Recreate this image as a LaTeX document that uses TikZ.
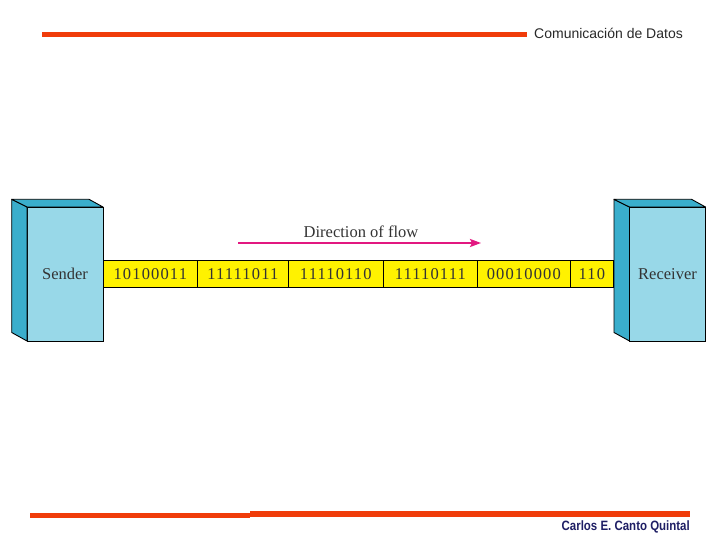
\documentclass[tikz,border=0pt]{standalone}
\usepackage{fontspec}
\setmainfont{Liberation Serif}
\newfontfamily\headfont{Liberation Sans}
\newfontfamily\authfont[FakeStretch=0.85]{Liberation Sans}
\usetikzlibrary{arrows.meta}
\definecolor{barred}{RGB}{240,60,10}
\definecolor{lightbox}{RGB}{152,216,232}
\definecolor{darkbox}{RGB}{58,174,204}
\definecolor{flowmag}{RGB}{226,24,128}
\definecolor{authnavy}{RGB}{30,30,100}
\definecolor{headgray}{RGB}{40,40,40}
\tikzset{
  frontface/.style={draw=black, fill=lightbox, line width=0.9pt, inner sep=0pt, outer sep=0pt,
    minimum width=76pt, minimum height=134pt,
    font=\fontsize{16.5}{18}\selectfont, text=black!80},
  shadeface/.style={draw=black, fill=darkbox, line width=0.9pt, line join=round},
  cell/.style={draw=black, fill=yellow, line width=0.8pt, inner sep=0pt, outer sep=0pt,
    minimum height=26.6pt, anchor=west,
    font=\fontsize{16.5}{18}\selectfont\addfontfeature{LetterSpace=7}, text=black!80},
  redbar/.style={fill=barred, draw=none},
}
\begin{document}
\begin{tikzpicture}[x=1pt,y=-1pt]
\useasboundingbox (0,0) rectangle (720,540);
% header and footer bars
\fill[redbar] (42,32.5) rectangle (527,37.5);
\node[anchor=west, font=\headfont\fontsize{14}{16}\selectfont, text=headgray, inner sep=0pt] (title) at (534,33) {Comunicación de Datos};
\fill[redbar] (30,512.5) rectangle (250,518);
\fill[redbar] (250,511) rectangle (690,516.5);
\node[anchor=east, font=\authfont\bfseries\fontsize{13.5}{15}\selectfont, text=authnavy, inner sep=0pt] (author) at (690,527) {Carlos E. Canto Quintal};

% sender
\node[frontface] (sender) at (65,274) {Sender};
\path[shadeface] (11.7,199.3) -- (sender.north west) -- (sender.south west) -- (11.7,332.5) -- cycle;
\path[shadeface] (11.7,199.3) -- (89,199.3) -- (sender.north east) -- (sender.north west) -- cycle;

% receiver
\node[frontface] (receiver) at (667.5,274) {Receiver};
\path[shadeface] (614,199.3) -- (receiver.north west) -- (receiver.south west) -- (614,332.5) -- cycle;
\path[shadeface] (614,199.3) -- (691.5,199.3) -- (receiver.north east) -- (receiver.north west) -- cycle;

% bit cells
\node[cell, minimum width=94pt] (c1) at (103.3,274) {10100011};
\node[cell, minimum width=91pt] (c2) at (c1.east) {11111011};
\node[cell, minimum width=95pt] (c3) at (c2.east) {11110110};
\node[cell, minimum width=94pt] (c4) at (c3.east) {11110111};
\node[cell, minimum width=93pt] (c5) at (c4.east) {00010000};
\node[cell, minimum width=43pt] (c6) at (c5.east) {110};

% direction of flow
\node[font=\fontsize{16.5}{18}\selectfont, text=black!80, inner sep=0pt] (flowlabel) at (361,231.5) {Direction of flow};
\coordinate (fa) at (238,243);
\coordinate (fb) at (481,243);
\draw[flowmag, line width=2pt, -{Stealth[length=11pt,width=8pt,inset=2pt]}] (fa) -- (fb);
\end{tikzpicture}
\end{document}
